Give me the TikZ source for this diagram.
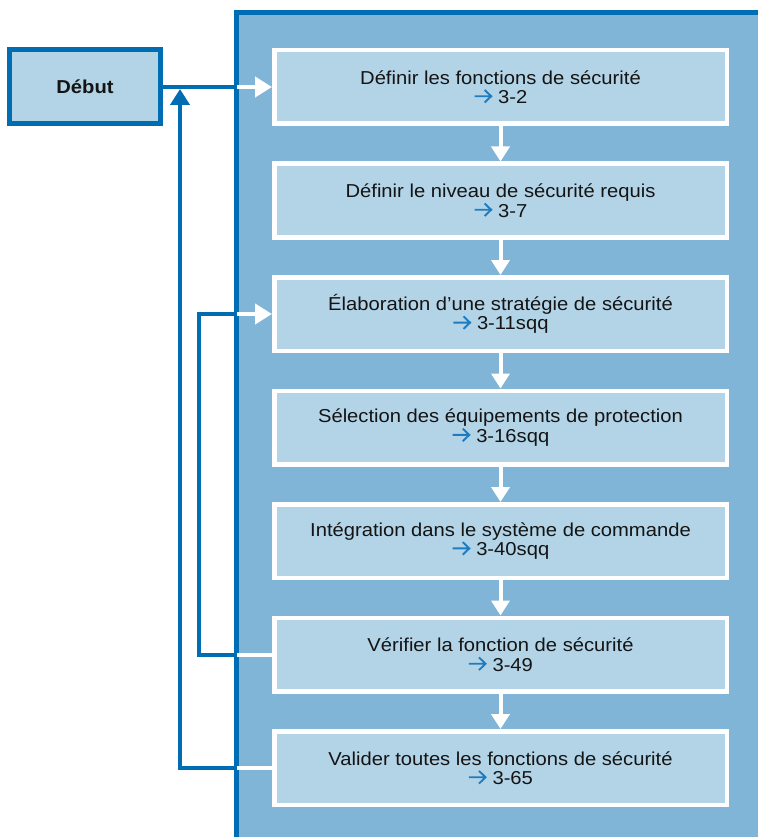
\documentclass[tikz,border=0pt]{standalone}
\usepackage{fontspec}
\setmainfont{Liberation Sans}[FakeStretch=1.08]
\usetikzlibrary{arrows.meta}
\definecolor{frameblue}{HTML}{006DB3}
\definecolor{panelblue}{HTML}{80B5D8}
\definecolor{boxblue}{HTML}{B3D4E7}
\definecolor{refblue}{HTML}{1F7CC1}
\definecolor{textdark}{HTML}{141414}
% page reference: a small blue arrow followed by the page number
\newcommand{\stepref}[1]{%
  \tikz[x=1pt,y=1pt,baseline=0pt]{%
    \draw[refblue,line width=1.9pt,line cap=butt,line join=miter]
      (0,7.3) -- (16,7.3) (10,13.6) -- (16.6,7.3) -- (10,1);}%
  \hspace{6pt}#1}
\begin{document}
\begin{tikzpicture}[x=1pt,y=-1pt,
  stepbox/.style={font=\fontsize{18.7}{19.5}\selectfont,draw=white,line width=4.5pt,fill=boxblue,
    minimum width=452.5pt,minimum height=73.5pt,align=center,inner sep=0pt,text=textdark},
  startbox/.style={font=\fontsize{18.7}{19.5}\selectfont\bfseries,draw=frameblue,line width=5pt,
    fill=boxblue,minimum width=151pt,minimum height=74pt,inner sep=0pt,text=textdark},
  flowdown/.style={white,line width=4pt,-{Triangle[length=15pt,width=18pt]}},
  flowin/.style={white,line width=4pt,-{Triangle[length=17pt,width=20pt]}},
  flowline/.style={white,line width=4pt},
  feed/.style={frameblue,line width=4pt},
]
\useasboundingbox (0,0) rectangle (758,837);

% background panel with its frame on the left and top
\fill[panelblue] (234,10) rectangle (758,837);
\draw[frameblue,line width=5pt] (236.5,837) -- (236.5,12.5) -- (758,12.5);

% reference lines for the connectors
\coordinate (edge) at (236.5,0);
\coordinate (loopout) at (180,0);
\coordinate (loopin) at (199,0);

% steps
\node[startbox] (start) at (85,87) {Début};
\node[stepbox] (s1) at (500.5,87)    {Définir les fonctions de sécurité\\\stepref{3-2}};
\node[stepbox] (s2) at (500.5,200.5) {Définir le niveau de sécurité requis\\\stepref{3-7}};
\node[stepbox] (s3) at (500.5,314)   {Élaboration d’une stratégie de sécurité\\\stepref{3-11sqq}};
\node[stepbox] (s4) at (500.5,427.5) {Sélection des équipements de protection\\\stepref{3-16sqq}};
\node[stepbox] (s5) at (500.5,541)   {Intégration dans le système de commande\\\stepref{3-40sqq}};
\node[stepbox] (s6) at (500.5,654.5) {Vérifier la fonction de sécurité\\\stepref{3-49}};
\node[stepbox] (s7) at (500.5,768)   {Valider toutes les fonctions de sécurité\\\stepref{3-65}};

% feedback loops (outside the panel)
\draw[feed] (start.east) -- (start.east -| edge);
\draw[feed,shorten >=2pt,-{Triangle[length=16pt,width=19pt]}]
  (s7.west -| edge) -| (loopout |- start.east);
\draw[feed] (s6.west -| edge) -| (loopin |- s3.west) -- (s3.west -| edge);

% connectors inside the panel
\draw[flowin] (start.east -| edge) -- (s1.west);
\draw[flowin] (s3.west -| edge) -- (s3.west);
\draw[flowline] (s6.west -| edge) -- (s6.west);
\draw[flowline] (s7.west -| edge) -- (s7.west);
\foreach \a/\b in {s1/s2,s2/s3,s3/s4,s4/s5,s5/s6,s6/s7}
  \draw[flowdown] (\a.south) -- (\b.north);
\end{tikzpicture}
\end{document}
